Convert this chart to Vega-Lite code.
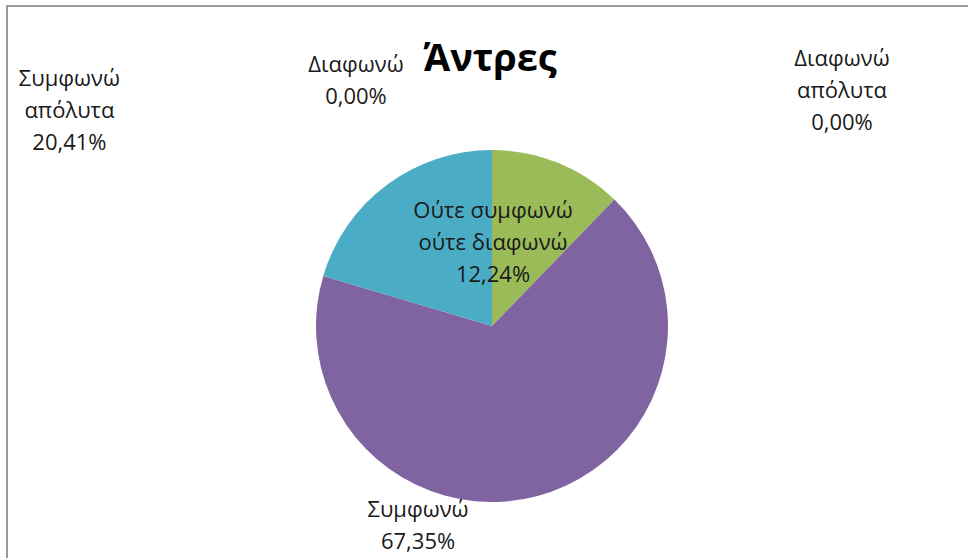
{
  "$schema": "https://vega.github.io/schema/vega-lite/v6.json",
  "width": 970,
  "height": 640,
  "autosize": {"type": "none"},
  "padding": {"left": 7, "top": 6, "right": 0, "bottom": 0},
  "background": "white",
  "title": {"text": "Άντρες", "font": "Open Sans", "fontSize": 38, "fontWeight": "bold", "color": "#000000", "anchor": "middle", "offset": -74, "dx": -2},
  "config": {
    "view": {"stroke": null},
    "text": {"font": "Open Sans", "fontSize": 22, "lineHeight": 32, "lineBreak": "\n", "baseline": "middle", "align": "center", "fill": "#1a1a1a"}
  },
  "data": {"values": [
    {"cat": "Διαφωνώ απόλυτα", "pct": 0, "i": 1},
    {"cat": "Διαφωνώ", "pct": 0, "i": 2},
    {"cat": "Ούτε συμφωνώ ούτε διαφωνώ", "pct": 12.24, "i": 3},
    {"cat": "Συμφωνώ", "pct": 67.35, "i": 4},
    {"cat": "Συμφωνώ απόλυτα", "pct": 20.41, "i": 5}
  ]},
  "transform": [
    {"stack": "pct", "groupby": [], "sort": [{"field": "i", "order": "ascending"}], "as": ["v0", "v1"]},
    {"calculate": "(datum.v0 + datum.v1) / 2", "as": "mid"},
    {"calculate": "replace(replace(datum.cat, ' απόλυτα', '\\nαπόλυτα'), ' ούτε', '\\nούτε') + '\\n' + replace(format(datum.pct, '.2f'), '.', ',') + '%'", "as": "lab"}
  ],
  "layer": [
    {
      "transform": [{"filter": "datum.i == 1"}],
      "mark": {"type": "rect", "fill": null, "stroke": "#9a9a9a", "strokeWidth": 2},
      "encoding": {}
    },
    {
      "mark": {"type": "arc", "outerRadius": 176},
      "encoding": {
        "theta": {"field": "v0", "type": "quantitative", "stack": null, "scale": {"domain": [0, 100]}},
        "theta2": {"field": "v1"},
        "color": {"field": "cat", "type": "nominal", "legend": null,
          "scale": {"domain": ["Διαφωνώ απόλυτα", "Διαφωνώ", "Ούτε συμφωνώ ούτε διαφωνώ", "Συμφωνώ", "Συμφωνώ απόλυτα"],
                    "range": ["#4F81BD", "#C0504D", "#9BBB59", "#8064A2", "#4BACC6"]}}
      }
    },
    {
      "transform": [{"filter": "datum.i == 3"}],
      "mark": {"type": "text", "radius": 88, "dx": -32, "dy": -33},
      "encoding": {"theta": {"field": "mid", "type": "quantitative", "stack": null}, "text": {"field": "lab"}}
    },
    {
      "transform": [{"filter": "datum.i == 4"}],
      "mark": {"type": "text", "radius": 205, "dx": -126, "dy": -14},
      "encoding": {"theta": {"field": "mid", "type": "quantitative", "stack": null}, "text": {"field": "lab"}}
    },
    {
      "transform": [{"filter": "datum.i == 5"}],
      "mark": {"type": "text", "radius": 230, "dx": -285, "dy": -63},
      "encoding": {"theta": {"field": "mid", "type": "quantitative", "stack": null}, "text": {"field": "lab"}}
    },
    {
      "transform": [{"filter": "datum.i == 2"}],
      "mark": {"type": "text", "radius": 230, "dx": -136, "dy": -31},
      "encoding": {"theta": {"field": "mid", "type": "quantitative", "stack": null}, "text": {"field": "lab"}}
    },
    {
      "transform": [{"filter": "datum.i == 1"}],
      "mark": {"type": "text", "radius": 230, "dx": 350, "dy": -37},
      "encoding": {"theta": {"field": "mid", "type": "quantitative", "stack": null}, "text": {"field": "lab"}}
    }
  ]
}
